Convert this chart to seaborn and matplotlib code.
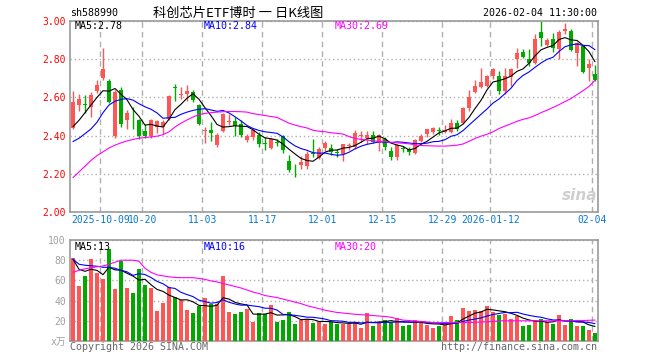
import matplotlib
matplotlib.use("Agg")
import matplotlib.pyplot as plt
import numpy as np
import pandas as pd
import seaborn as sns

# ---------------- data ----------------
opens = [2.442, 2.560, 2.568, 2.550, 2.636, 2.700, 2.686, 2.397, 2.640, 2.480,
         2.500, 2.480, 2.425, 2.400, 2.445, 2.445, 2.485, 2.655, 2.615, 2.620,
         2.630, 2.560, 2.422, 2.428, 2.350, 2.423, 2.470, 2.476, 2.460, 2.378,
         2.392, 2.405, 2.362, 2.335, 2.365, 2.400, 2.265, 2.236, 2.248, 2.240,
         2.310, 2.285, 2.335, 2.335, 2.312, 2.303, 2.345, 2.340, 2.398, 2.390,
         2.405, 2.360, 2.382, 2.320, 2.290, 2.332, 2.330, 2.307, 2.374, 2.406,
         2.420, 2.427, 2.418, 2.420, 2.466, 2.465, 2.547, 2.630, 2.655, 2.662,
         2.710, 2.710, 2.636, 2.709, 2.800, 2.839, 2.803, 2.782, 2.944, 2.874,
         2.905, 2.853, 2.950, 2.950, 2.835, 2.870, 2.756, 2.720]
highs = [2.635, 2.620, 2.615, 2.630, 2.690, 2.860, 2.697, 2.640, 2.655, 2.535,
         2.550, 2.485, 2.460, 2.487, 2.480, 2.480, 2.613, 2.670, 2.655, 2.665,
         2.640, 2.565, 2.444, 2.470, 2.415, 2.520, 2.515, 2.495, 2.480, 2.410,
         2.437, 2.420, 2.395, 2.390, 2.380, 2.405, 2.300, 2.252, 2.295, 2.320,
         2.380, 2.340, 2.370, 2.355, 2.330, 2.358, 2.360, 2.430, 2.426, 2.425,
         2.422, 2.410, 2.395, 2.340, 2.357, 2.347, 2.340, 2.382, 2.409, 2.436,
         2.447, 2.445, 2.458, 2.485, 2.482, 2.552, 2.640, 2.690, 2.753, 2.715,
         2.756, 2.740, 2.753, 2.756, 2.860, 2.856, 2.856, 2.930, 3.000, 2.910,
         2.937, 2.954, 2.990, 2.958, 2.888, 2.874, 2.803, 2.768]
lows = [2.435, 2.530, 2.520, 2.500, 2.625, 2.690, 2.570, 2.390, 2.445, 2.435,
        2.435, 2.380, 2.385, 2.390, 2.415, 2.410, 2.480, 2.580, 2.590, 2.580,
        2.578, 2.455, 2.362, 2.370, 2.340, 2.418, 2.455, 2.397, 2.393, 2.365,
        2.375, 2.340, 2.325, 2.330, 2.345, 2.310, 2.212, 2.185, 2.225, 2.225,
        2.290, 2.280, 2.320, 2.300, 2.288, 2.266, 2.325, 2.330, 2.365, 2.356,
        2.360, 2.318, 2.325, 2.270, 2.270, 2.312, 2.300, 2.303, 2.365, 2.392,
        2.410, 2.405, 2.413, 2.415, 2.423, 2.460, 2.530, 2.622, 2.648, 2.657,
        2.697, 2.617, 2.617, 2.660, 2.756, 2.804, 2.765, 2.777, 2.870, 2.867,
        2.840, 2.800, 2.930, 2.845, 2.765, 2.730, 2.686, 2.686]
closes = [2.575, 2.590, 2.560, 2.610, 2.665, 2.750, 2.578, 2.630, 2.460, 2.520,
          2.495, 2.400, 2.400, 2.480, 2.475, 2.470, 2.605, 2.650, 2.620, 2.634,
          2.585, 2.462, 2.427, 2.416, 2.402, 2.515, 2.475, 2.450, 2.402, 2.396,
          2.430, 2.357, 2.356, 2.380, 2.360, 2.325, 2.222, 2.233, 2.263, 2.305,
          2.305, 2.332, 2.360, 2.316, 2.309, 2.355, 2.350, 2.412, 2.400, 2.405,
          2.365, 2.405, 2.340, 2.290, 2.353, 2.330, 2.312, 2.377, 2.400, 2.432,
          2.440, 2.424, 2.428, 2.468, 2.435, 2.545, 2.600, 2.660, 2.683, 2.710,
          2.750, 2.636, 2.710, 2.751, 2.835, 2.814, 2.782, 2.905, 2.909, 2.900,
          2.860, 2.940, 2.956, 2.850, 2.884, 2.733, 2.774, 2.691]
volumes = [82.3, 54.3, 64.3, 81.3, 67.3, 61.3, 91.0, 51.3, 79.3, 52.3,
           47.3, 71.3, 55.3, 52.3, 29.3, 37.3, 53.0, 43.3, 40.3, 30.3,
           27.3, 35.0, 42.3, 36.3, 36.3, 64.3, 28.3, 26.3, 28.3, 31.3,
           19.3, 27.3, 27.0, 35.3, 19.3, 20.3, 28.3, 17.3, 20.3, 21.7,
           18.3, 19.0, 17.3, 19.3, 17.3, 16.7, 16.7, 19.0, 13.3, 27.3,
           15.3, 19.0, 21.0, 18.3, 22.3, 15.3, 16.3, 20.7, 18.3, 16.3,
           13.3, 15.3, 16.3, 24.3, 20.3, 32.3, 30.0, 31.0, 29.7, 34.3,
           29.0, 25.3, 26.7, 21.7, 24.3, 15.3, 16.3, 20.7, 21.3, 19.3,
           17.3, 25.3, 16.3, 21.7, 15.3, 15.3, 11.3, 8.3]

# moving-average values before enough in-window days exist
ma5_head = [2.447, 2.48, 2.52, 2.56]
ma10_head = [2.369, 2.386, 2.41, 2.435, 2.47, 2.52, 2.56, 2.58, 2.59]
ma30 = [2.18, 2.21, 2.24, 2.27, 2.295, 2.315, 2.335, 2.35, 2.362, 2.372,
        2.38, 2.386, 2.39, 2.393, 2.397, 2.405, 2.42, 2.445, 2.465, 2.482,
        2.497, 2.51, 2.516, 2.52, 2.523, 2.525, 2.526, 2.526, 2.525, 2.523,
        2.515, 2.51, 2.505, 2.5, 2.495, 2.48, 2.465, 2.455, 2.447, 2.44,
        2.428, 2.423, 2.42, 2.415, 2.412, 2.408, 2.395, 2.385, 2.38, 2.377,
        2.373, 2.37, 2.368, 2.365, 2.362, 2.36, 2.357, 2.352, 2.348, 2.347,
        2.346, 2.345, 2.345, 2.347, 2.35, 2.356, 2.37, 2.385, 2.397, 2.407,
        2.42, 2.437, 2.45, 2.462, 2.475, 2.485, 2.493, 2.505, 2.52, 2.533,
        2.547, 2.562, 2.578, 2.594, 2.615, 2.635, 2.657, 2.69]
vma5_head = [81, 71, 69, 71]
vma10_head = [81, 76, 75, 74.5, 74, 73, 73, 72, 70]
vma30 = [68, 70, 71.5, 72.5, 73.5, 74.3, 76, 78, 80, 80,
         80, 79, 72, 68, 65.5, 64.5, 63.5, 63, 62.7, 62.7,
         62.7, 62, 61, 59.5, 58.5, 57, 55.5, 54, 52.5, 50.5,
         48.5, 47, 45, 44, 43, 41.5, 40, 38.5, 37, 35,
         33.5, 32, 30.5, 29.3, 28.3, 27.7, 27, 26.5, 26, 25.7,
         25.2, 24.7, 24.3, 23.5, 22, 20.7, 20.3, 19.7, 19.3, 18.8,
         18.3, 18.3, 18.3, 18.3, 18.3, 18.3, 18.3, 18.5, 18.8, 19,
         19.3, 20, 20, 20, 20, 20, 20, 20, 20, 20,
         20, 20, 20, 20, 20.3, 20.3, 20.5, 20.7]

tick_dates = ["2025-10-09", "2025-10-20", "2025-11-03", "2025-11-17", "2025-12-01",
              "2025-12-15", "2025-12-29", "2026-01-12", "2026-02-04"]
tick_labels = ["2025-10-09", "10-20", "11-03", "11-17", "12-01",
               "12-15", "12-29", "2026-01-12", "02-04"]
holidays = ["2025-10-01", "2025-10-02", "2025-10-03", "2025-10-06", "2025-10-07",
            "2025-10-08", "2026-01-01", "2026-01-02"]
price_ticks = [2.00, 2.20, 2.40, 2.60, 2.80, 3.00]
vol_ticks = [0, 20, 40, 60, 80, 100]
vol_tick_labels = ["x万", "20", "40", "60", "80", "100"]

title = "科创芯片ETF博时 一 日K线图"
code = "sh588990"
stamp = "2026-02-04 11:30:00"
ma_text = ["MA5:2.78", "MA10:2.84", "MA30:2.69"]
vma_text = ["MA5:13", "MA10:16", "MA30:20"]

# ---------------- prep ----------------
days = pd.bdate_range("2025-09-24", "2026-02-04")
days = [d.strftime("%Y-%m-%d") for d in days if d.strftime("%Y-%m-%d") not in holidays]
n = len(closes)
x = np.arange(n)
o = np.array(opens); c = np.array(closes); h = np.array(highs); l = np.array(lows)
v = np.array(volumes)

RED = "#ff5555"
GREEN = "#00a800"
cols = np.where(c >= o, RED, GREEN)

ma5 = pd.Series(c).rolling(5).mean().to_numpy()
ma5[:4] = ma5_head
ma10 = pd.Series(c).rolling(10).mean().to_numpy()
ma10[:9] = ma10_head
vma5 = pd.Series(v).rolling(5).mean().to_numpy()
vma5[:4] = vma5_head
vma10 = pd.Series(v).rolling(10).mean().to_numpy()
vma10[:9] = vma10_head

tick_pos = [days.index(d) - 0.45 for d in tick_dates]

# ---------------- plot ----------------
sns.set_theme(style="white")
plt.rcParams["font.family"] = ["DejaVu Sans Mono", "Noto Sans CJK SC"]

W, H = 660, 360
fig = plt.figure(figsize=(6.6, 3.6), dpi=100)
ax1 = fig.add_axes([70 / W, 1 - 212 / H, 528 / W, 191 / H])
ax2 = fig.add_axes([70 / W, 1 - 341 / H, 528 / W, 101 / H])

SPINE = "#9a9a9a"
GRID = "#b0b0b0"

for ax in (ax1, ax2):
    ax.set_facecolor("white")
    for s in ax.spines.values():
        s.set_color(SPINE)
        s.set_linewidth(1.2)
    ax.tick_params(length=0, labelsize=7)
    ax.set_axisbelow(True)

# candles
ax1.vlines(x, l, h, colors=cols, linewidth=1.0, zorder=2)
ax1.bar(x, np.maximum(np.abs(c - o), 0.004), bottom=np.minimum(o, c), width=0.82,
        color=cols, linewidth=0, zorder=3)
sns.lineplot(x=x, y=ma5, ax=ax1, color="black", linewidth=0.8, zorder=4)
sns.lineplot(x=x, y=ma10, ax=ax1, color="#0000ff", linewidth=0.8, zorder=4)
sns.lineplot(x=x, y=ma30, ax=ax1, color="#ff00ff", linewidth=0.8, zorder=4)
ax1.set_ylim(2.0, 3.0)
ax1.set_yticks(price_ticks)
ax1.set_yticklabels([f"{t:.2f}" for t in price_ticks], color="#ff0000")
ax1.set_xlim(-0.5, n - 0.5)
ax1.set_xticks(tick_pos)
ax1.set_xticklabels(tick_labels, color="#0a78d0")
ax1.tick_params(axis="x", pad=2)
ax1.tick_params(axis="y", pad=3)
ax1.set_xlabel(""); ax1.set_ylabel("")

# volume
vdf = pd.DataFrame({"day": days, "vol": v})
sns.barplot(data=vdf, x="day", y="vol", hue="day", palette=dict(zip(days, cols)),
            dodge=False, legend=False, errorbar=None, width=0.82, saturation=1,
            linewidth=0, edgecolor="none", ax=ax2, zorder=3)
sns.lineplot(x=x, y=vma5, ax=ax2, color="black", linewidth=0.8, zorder=4)
sns.lineplot(x=x, y=vma10, ax=ax2, color="#0000ff", linewidth=0.8, zorder=4)
sns.lineplot(x=x, y=vma30, ax=ax2, color="#ff00ff", linewidth=0.8, zorder=4)
ax2.set_xlim(-0.5, n - 0.5)
ax2.set_xticks(tick_pos)
ax2.set_xticklabels([])
ax2.set_ylim(0, 100)
ax2.set_yticks(vol_ticks)
ax2.set_yticklabels(vol_tick_labels, color="#a0a0a0")
ax2.tick_params(axis="y", pad=3)
ax2.set_xlabel(""); ax2.set_ylabel("")

for ax in (ax1, ax2):
    ax.grid(True, axis="x", color=GRID, linestyle=(0, (4, 3)), linewidth=1.0)
    ax.grid(True, axis="y", color=GRID, linestyle=(0, (1, 2)), linewidth=1.0)

# texts
fig.text(70 / W, 1 - 13 / H, code, ha="left", va="center", fontsize=7.2, color="black")
fig.text(238 / W, 1 - 13 / H, title, ha="center", va="center", fontsize=9.5,
         color="black", family=["Noto Sans CJK SC", "DejaVu Sans"])
fig.text(597 / W, 1 - 13 / H, stamp, ha="right", va="center", fontsize=7.2, color="black")
ma_cols = ["black", "#0000ff", "#ff00ff"]
ma_x = [75, 204, 335]
for t, col, xx in zip(ma_text, ma_cols, ma_x):
    fig.text(xx / W, 1 - 26 / H, t, ha="left", va="center", fontsize=7.2, color=col)
for t, col, xx in zip(vma_text, ma_cols, ma_x):
    fig.text(xx / W, 1 - 247 / H, t, ha="left", va="center", fontsize=7.2, color=col)
fig.text(70 / W, 1 - 347 / H, "Copyright 2026 SINA.COM", ha="left", va="center",
         fontsize=7.2, color="#666666")
fig.text(597 / W, 1 - 347 / H, "http://finance.sina.com.cn", ha="right", va="center",
         fontsize=7.2, color="#666666")
fig.text(580 / W, 1 - 195 / H, "sina", ha="center", va="center", fontsize=11,
         fontweight="bold", style="italic", color="#cfcfcf", family="DejaVu Sans")

fig.savefig("out.png", dpi=100, facecolor="white")
